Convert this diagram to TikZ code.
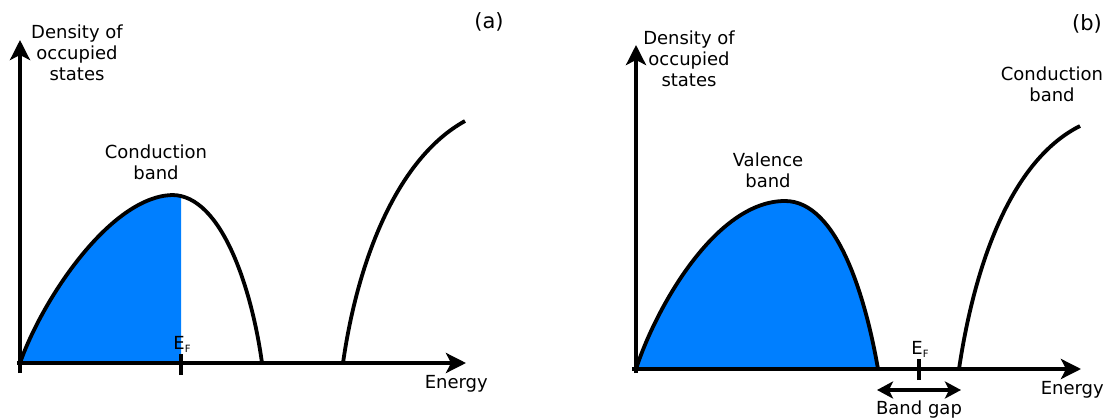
\documentclass[tikz,border=0pt]{standalone}
\usepackage{fontspec}
\setmainfont{DejaVu Sans}
\usetikzlibrary{arrows.meta}
\definecolor{bandblue}{RGB}{0,127,255}
\begin{document}
\begin{tikzpicture}[x=1pt,y=-1pt,
  axis/.style={line width=3.8pt,-{Stealth[length=20pt,width=20pt,inset=5pt]}},
  curve/.style={line width=3.8pt},
  tickmark/.style={line width=3.8pt},
  lbl/.style={font=\fontsize{18}{21}\selectfont,align=center,inner sep=0pt},
  panel/.style={font=\fontsize{21}{24}\selectfont,inner sep=0pt},
  ef/.style={font=\fontsize{18}{20}\selectfont,inner sep=0pt},
  gap/.style={line width=3.8pt,{Stealth[length=16pt,width=17pt,inset=4pt]}-{Stealth[length=16pt,width=17pt,inset=4pt]}}]
\useasboundingbox (0,0) rectangle (1115,419);

% ---------- panel (a) ----------
\coordinate (aylow) at (20,373);
\coordinate (aytop) at (20,40);
\coordinate (axlow) at (17,363);
\coordinate (axtop) at (466,363);
\coordinate (aEFt) at (181,354);
\coordinate (aEFb) at (181,375);

\begin{scope}
  \clip (20,0) rectangle (181,363);
  \fill[bandblue] (20,363) .. controls (42,300) and (110,197) .. (172,195)
     .. controls (222,195) and (252,290) .. (262,363) -- cycle;
\end{scope}
\draw[curve] (20,363) .. controls (42,300) and (110,197) .. (172,195)
     .. controls (222,195) and (252,290) .. (262,363);
\draw[curve] (343,363) .. controls (358,258) and (398,158) .. (465,121);

\draw[axis] (axlow) -- (axtop);
\draw[axis] (aylow) -- (aytop);
\draw[tickmark] (aEFb) -- (aEFt);

\node[lbl] (adens) at (77,53) {Density of\\occupied\\states};
\node[lbl] (acond) at (156,162) {Conduction\\band};
\node[ef,anchor=south] (aef) at (182,353) {E\raisebox{-0.35ex}{\fontsize{10}{11}\selectfont F}};
\node[lbl,anchor=north east] (aen) at (488,375) {Energy};
\node[panel] (alab) at (489,22) {(a)};

% ---------- panel (b) ----------
\coordinate (bylow) at (636,373);
\coordinate (bytop) at (636,45);
\coordinate (bxlow) at (632,369);
\coordinate (bxtop) at (1081,369);
\coordinate (bEFt) at (919,359);
\coordinate (bEFb) at (919,380);
\coordinate (bgapl) at (877,390);
\coordinate (bgapr) at (961,390);

\fill[bandblue] (636,369) .. controls (655,310) and (715,201) .. (785,201)
   .. controls (838,201) and (866,300) .. (878,369) -- cycle;
\draw[curve] (636,369) .. controls (655,310) and (715,201) .. (785,201)
   .. controls (838,201) and (866,300) .. (878,369);
\draw[curve] (959,369) .. controls (975,262) and (1012,160) .. (1080,126);

\draw[axis] (bxlow) -- (bxtop);
\draw[axis] (bylow) -- (bytop);
\draw[tickmark] (bEFb) -- (bEFt);
\draw[gap] (bgapl) -- (bgapr);

\node[lbl] (bdens) at (689,59) {Density of\\occupied\\states};
\node[lbl] (bval) at (768,170) {Valence\\band};
\node[lbl] (bcond) at (1052,84) {Conduction\\band};
\node[ef,anchor=south] (bef) at (920,358) {E\raisebox{-0.35ex}{\fontsize{10}{11}\selectfont F}};
\node[lbl,anchor=north] (bgaplbl) at (919,401) {Band gap};
\node[lbl,anchor=north east] (ben) at (1104,381) {Energy};
\node[panel] (blab) at (1087,24) {(b)};
\end{tikzpicture}
\end{document}
